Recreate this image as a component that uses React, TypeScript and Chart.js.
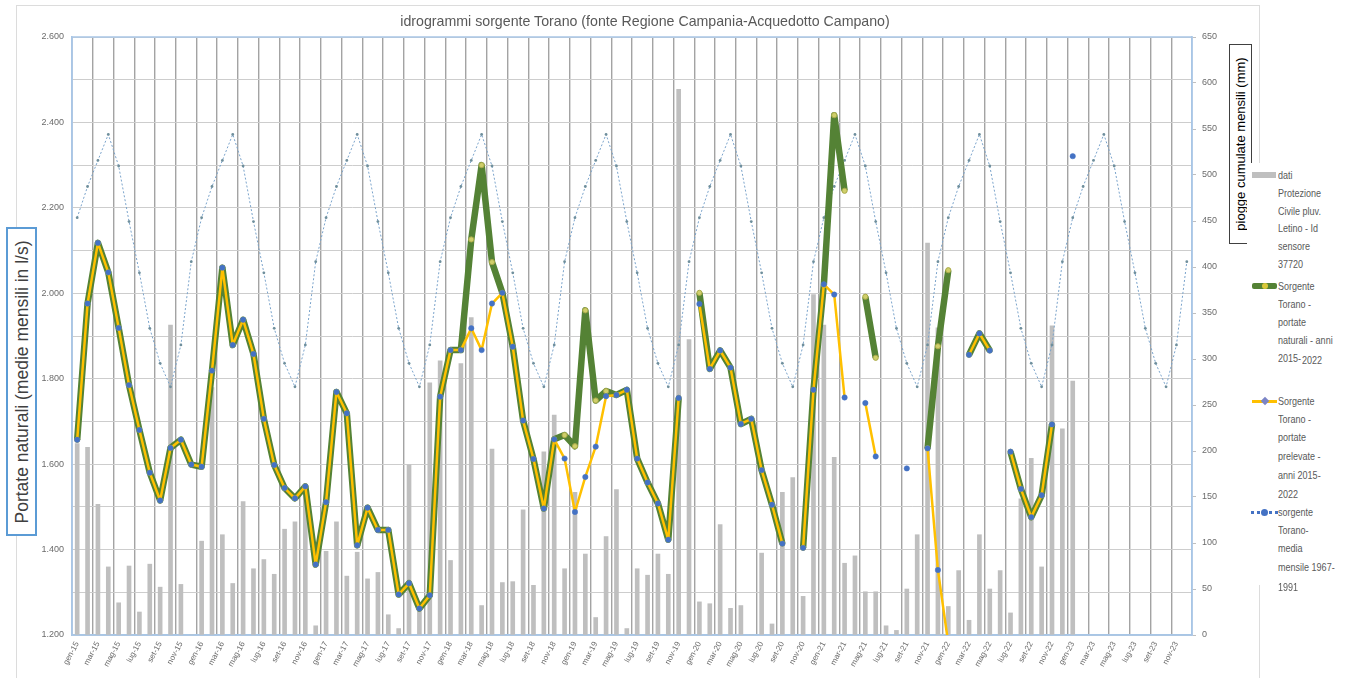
import React, { useEffect, useRef } from 'react';
import { Chart, registerables } from 'chart.js';

Chart.register(...registerables);

// ---------- data ----------
const MONTHS = ['gen', 'feb', 'mar', 'apr', 'mag', 'giu', 'lug', 'ago', 'set', 'ott', 'nov', 'dic'];
const YEARS = ['15', '16', '17', '18', '19', '20', '21', '22', '23'];
const categories: string[] = YEARS.flatMap((y) => MONTHS.map((m) => `${m}-${y}`));

// monthly cumulated rainfall (mm) - right axis
const pioggeMm: (number | null)[] = [
  208, 204, 142, 74, 35, 75, 25, 77, 52, 337, 55, 0,
  102, 269, 109, 56, 145, 72, 82, 66, 115, 123, 160, 10,
  91, 123, 64, 90, 61, 68, 22, 7, 185, 30, 274, 298,
  81, 295, 345, 32, 202, 57, 58, 136, 54, 199, 239, 72,
  155, 88, 19, 107, 158, 7, 72, 65, 88, 66, 593, 321,
  36, 34, 120, 29, 32, 0, 89, 12, 155, 171, 42, 370,
  337, 193, 78, 86, 47, 47, 10, 5, 50, 109, 426, 334,
  31, 70, 16, 109, 50, 70, 24, 148, 192, 74, 336, 224,
  276, null, null, null, null, null, null, null, null, null, null, null,
];

// Sorgente Torano - portate naturali (l/s)
const portateNaturali: (number | null)[] = [
  1657, 1976, 2118, 2049, 1919, 1785, 1680, 1580, 1515, 1638, 1657, 1599,
  1594, 1819, 2060, 1879, 1938, 1858, 1706, 1598, 1544, 1520, 1548, 1365,
  1511, 1769, 1719, 1410, 1498, 1446, 1446, 1295, 1321, 1262, 1293, 1758,
  1867, 1867, 2126, 2300, 2073, 2001, 1875, 1702, 1612, 1496, 1658, 1668,
  1642, 1960, 1749, 1771, 1762, 1774, 1613, 1557, 1508, 1423, 1755, null,
  2001, 1823, 1866, 1826, 1694, 1706, 1586, 1505, 1414, null, 1404, 1774,
  2020, 2417, 2240, null, 1992, 1849, null, null, null, null, 1637, 1876,
  2054, null, 1856, 1906, 1866, null, 1629, 1542, 1476, 1527, 1693, null,
  null, null, null, null, null, null, null, null, null, null, null, null,
];

// Sorgente Torano - portate prelevate (l/s)
const portatePrelevate: (number | null)[] = [
  1657, 1976, 2118, 2049, 1919, 1785, 1680, 1580, 1515, 1638, 1657, 1599,
  1594, 1819, 2060, 1879, 1938, 1858, 1706, 1598, 1544, 1520, 1548, 1365,
  1511, 1769, 1719, 1410, 1498, 1446, 1446, 1295, 1321, 1262, 1293, 1758,
  1867, 1867, 1918, 1867, 1976, 2001, 1875, 1702, 1612, 1496, 1658, 1613,
  1488, 1570, 1641, 1759, 1762, 1774, 1613, 1557, 1508, 1423, 1755, null,
  1975, 1823, 1866, 1826, 1694, 1706, 1586, 1505, 1414, null, 1404, 1774,
  2021, 1997, 1756, null, 1743, 1618, null, null, 1590, null, 1637, 1352,
  1180, null, 1856, 1906, 1866, null, 1629, 1542, 1476, 1527, 1693, null,
  2321, null, null, null, null, null, null, null, null, null, null, null,
];

// sorgente Torano - media mensile 1967-1991 (l/s)
const mediaMensile: number[] = [
  2177, 2250, 2311, 2372, 2298, 2168, 2048, 1918, 1836, 1781, 1879, 2074,
  2177, 2250, 2311, 2372, 2298, 2168, 2048, 1918, 1836, 1781, 1879, 2074,
  2177, 2250, 2311, 2372, 2298, 2168, 2048, 1918, 1836, 1781, 1879, 2074,
  2177, 2250, 2311, 2372, 2298, 2168, 2048, 1918, 1836, 1781, 1879, 2074,
  2177, 2250, 2311, 2372, 2298, 2168, 2048, 1918, 1836, 1781, 1879, 2074,
  2177, 2250, 2311, 2372, 2298, 2168, 2048, 1918, 1836, 1781, 1879, 2074,
  2177, 2250, 2311, 2372, 2298, 2168, 2048, 1918, 1836, 1781, 1879, 2074,
  2177, 2250, 2311, 2372, 2298, 2168, 2048, 1918, 1836, 1781, 1879, 2074,
  2177, 2250, 2311, 2372, 2298, 2168, 2048, 1918, 1836, 1781, 1879, 2074,
];

const LEFT_MIN = 1200;
const LEFT_MAX = 2600;
const RIGHT_MIN = 0;
const RIGHT_MAX = 650;

const TITLE = 'idrogrammi sorgente Torano (fonte Regione Campania-Acquedotto Campano)';
const LEFT_AXIS_TITLE = 'Portate naturali (medie mensili in l/s)';
const RIGHT_AXIS_TITLE = 'piogge cumulate mensili (mm)';

const legendRain = ['dati', 'Protezione', 'Civile pluv.', 'Letino - Id', 'sensore', '37720'];
const legendNat = ['Sorgente', 'Torano -', 'portate', 'naturali - anni'];
const legendPrel = ['Sorgente', 'Torano -', 'portate', 'prelevate -', 'anni 2015-', '2022'];
const legendMedia = ['sorgente', 'Torano-', 'media', 'mensile 1967-', '1991'];

const fmtThousands = (v: number) => {
  const s = Math.round(v);
  const k = Math.floor(s / 1000);
  const r = String(s % 1000).padStart(3, '0');
  return `${k}.${r}`;
};

const FONT = '"Liberation Sans", Arial, sans-serif';

const borderPlugin = {
  id: 'plotBorder',
  beforeDatasetsDraw(chart: any) {
    const { ctx, chartArea } = chart;
    ctx.save();
    ctx.strokeStyle = '#a9c6e6';
    ctx.lineWidth = 1.5;
    ctx.strokeRect(chartArea.left, chartArea.top, chartArea.right - chartArea.left, chartArea.bottom - chartArea.top);
    ctx.restore();
  },
};

export default function App() {
  const ref = useRef<HTMLCanvasElement | null>(null);

  useEffect(() => {
    if (!ref.current) return;
    const chart = new Chart(ref.current, {
      type: 'bar',
      data: {
        labels: categories,
        datasets: [
          {
            type: 'line',
            label: 'Sorgente Torano - portate prelevate - anni 2015-2022',
            data: portatePrelevate,
            yAxisID: 'y',
            borderColor: '#ffc000',
            borderWidth: 2.5,
            pointRadius: 2.7,
            pointBackgroundColor: '#4472c4',
            pointBorderColor: '#4472c4',
            pointBorderWidth: 0.5,
            spanGaps: false,
            tension: 0,
            borderJoinStyle: 'round',
            order: 0,
          } as any,
          {
            type: 'line',
            label: 'Sorgente Torano - portate naturali - anni 2015-2022',
            data: portateNaturali,
            yAxisID: 'y',
            borderColor: '#548235',
            borderWidth: 6.5,
            pointRadius: 2.6,
            pointBackgroundColor: '#cfcf6a',
            pointBorderColor: '#a8a848',
            pointBorderWidth: 1,
            spanGaps: false,
            tension: 0,
            borderJoinStyle: 'round',
            order: 1,
          } as any,
          {
            type: 'line',
            label: 'sorgente Torano- media mensile 1967-1991',
            data: mediaMensile,
            yAxisID: 'y',
            borderColor: '#7aa3cb',
            borderWidth: 1,
            borderDash: [2, 2],
            pointRadius: 1.4,
            pointBackgroundColor: '#6f8f9c',
            pointBorderColor: '#6f8f9c',
            pointBorderWidth: 0,
            tension: 0,
            order: 2,
          } as any,
          {
            type: 'bar',
            label: 'dati Protezione Civile pluv. Letino - Id sensore 37720',
            data: pioggeMm,
            yAxisID: 'y2',
            backgroundColor: '#bfbfbf',
            barThickness: 4,
            order: 3,
          } as any,
        ],
      },
      options: {
        responsive: false,
        animation: false,
        devicePixelRatio: 1,
        layout: { padding: { top: 37, left: 0, right: 0, bottom: 0 } },
        plugins: {
          legend: { display: false },
          title: { display: false },
          tooltip: { enabled: false },
        },
        scales: {
          x: {
            type: 'category',
            offset: true,
            afterFit: (scale: any) => {
              scale.height = 43;
            },
            grid: {
              offset: true,
              drawTicks: false,
              lineWidth: 1.4,
              color: (ctx: any) => (ctx.index % 2 === 0 ? '#a3a3a3' : 'rgba(0,0,0,0)'),
            },
            border: { color: '#a9c6e6', width: 1.5 },
            ticks: {
              autoSkip: false,
              maxRotation: 62,
              minRotation: 62,
              padding: 5,
              color: '#6b6b6b',
              font: { family: FONT, size: 8 },
              callback: (_v: any, i: number) => (i % 2 === 0 ? categories[i] : ''),
            },
          },
          y: {
            type: 'linear',
            position: 'left',
            min: LEFT_MIN,
            max: LEFT_MAX,
            afterFit: (scale: any) => {
              scale.width = 72;
            },
            grid: { color: '#cdcdcd', lineWidth: 1, drawTicks: false },
            border: { color: '#a9c6e6', width: 1.5 },
            ticks: {
              stepSize: 100,
              padding: 8,
              color: '#6b6b6b',
              font: { family: FONT, size: 9 },
              callback: (v: any) => (Number(v) % 200 === 0 ? fmtThousands(Number(v)) : ''),
            },
          },
          y2: {
            type: 'linear',
            position: 'right',
            min: RIGHT_MIN,
            max: RIGHT_MAX,
            afterFit: (scale: any) => {
              scale.width = 154;
            },
            grid: { drawOnChartArea: false, color: '#bfbfbf', tickLength: 4 },
            border: { color: '#a9c6e6', width: 1.5 },
            ticks: {
              stepSize: 50,
              padding: 6,
              color: '#6b6b6b',
              font: { family: FONT, size: 9 },
            },
          },
        },
      },
      plugins: [borderPlugin],
    });
    return () => chart.destroy();
  }, []);

  const legendText = (lines: string[], x: number, ys: number[]) =>
    lines.map((t, i) => (
      <div
        key={t + i}
        style={{
          position: 'absolute',
          left: x,
          top: ys[i] - 7,
          fontSize: 11,
          lineHeight: '14px',
          color: '#595959',
          whiteSpace: 'nowrap',
          transform: 'scaleX(0.82)',
          transformOrigin: 'left center',
        }}
      >
        {t}
      </div>
    ));

  return (
    <div
      style={{
        position: 'fixed',
        left: 0,
        top: 0,
        width: 1346,
        height: 678,
        background: '#ffffff',
        overflow: 'hidden',
        fontFamily: FONT,
      }}
    >
      {/* chart area frame */}
      <div
        style={{
          position: 'absolute',
          left: 16,
          top: 5,
          width: 1244,
          height: 720,
          border: '1px solid #dcdcdc',
          boxSizing: 'border-box',
        }}
      />
      <canvas
        ref={ref}
        width={1346}
        height={678}
        style={{ position: 'absolute', left: 0, top: 0, width: 1346, height: 678 }}
      />
      {/* title */}
      <div
        style={{
          position: 'absolute',
          left: 645,
          top: 12,
          transform: 'translateX(-50%)',
          fontSize: 14.2,
          lineHeight: '18px',
          color: '#595959',
          whiteSpace: 'nowrap',
        }}
      >
        {TITLE}
      </div>
      {/* left axis title box */}
      <div
        style={{
          position: 'absolute',
          left: 6,
          top: 227,
          width: 31,
          height: 309,
          border: '2px solid #5b9bd5',
          boxSizing: 'border-box',
          background: '#fff',
        }}
      >
        <div
          style={{
            position: 'absolute',
            left: '50%',
            top: '50%',
            transform: 'translate(-50%, -50%) rotate(-90deg)',
            whiteSpace: 'nowrap',
            fontSize: 17.5,
            lineHeight: '20px',
            color: '#404040',
          }}
        >
          {LEFT_AXIS_TITLE}
        </div>
      </div>
      {/* right axis title box */}
      <div
        style={{
          position: 'absolute',
          left: 1229,
          top: 44,
          width: 23,
          height: 200,
          border: '1.5px solid #404040',
          boxSizing: 'border-box',
          background: '#fff',
        }}
      >
        <div
          style={{
            position: 'absolute',
            left: '50%',
            top: '50%',
            transform: 'translate(-50%, -50%) rotate(-90deg)',
            whiteSpace: 'nowrap',
            fontSize: 13,
            lineHeight: '16px',
            color: '#000000',
          }}
        >
          {RIGHT_AXIS_TITLE}
        </div>
      </div>
      {/* legend */}
      <div style={{ position: 'absolute', left: 1247, top: 163, width: 99, height: 422, background: '#fff' }} />
      {/* rain swatch */}
      <div style={{ position: 'absolute', left: 1252, top: 172, width: 24, height: 6, background: '#bfbfbf' }} />
      {legendText(legendRain, 1278, [175, 193, 211, 228, 246, 264])}
      {/* natural swatch */}
      <div style={{ position: 'absolute', left: 1252, top: 283, width: 25, height: 6, background: '#548235', borderRadius: 2 }} />
      <div style={{ position: 'absolute', left: 1262, top: 283, width: 6, height: 6, background: '#d8c83a', borderRadius: 3 }} />
      {legendText(legendNat, 1278, [286, 304, 322, 340])}
      <div style={{ position: 'absolute', left: 1278, top: 351, fontSize: 11, lineHeight: '14px', color: '#595959', whiteSpace: 'nowrap', transform: 'scaleX(0.82)', transformOrigin: 'left center' }}>
        2015-
      </div>
      <div style={{ position: 'absolute', left: 1302, top: 353, fontSize: 11, lineHeight: '14px', color: '#595959', whiteSpace: 'nowrap', transform: 'scaleX(0.82)', transformOrigin: 'left center' }}>
        2022
      </div>
      {/* prelevate swatch */}
      <div style={{ position: 'absolute', left: 1252, top: 400, width: 25, height: 3, background: '#ffc000' }} />
      <div style={{ position: 'absolute', left: 1262, top: 398, width: 6, height: 6, background: '#7b84c6', transform: 'rotate(45deg)' }} />
      {legendText(legendPrel, 1278, [401, 419, 437, 456, 475, 494])}
      {/* media swatch */}
      <div style={{ position: 'absolute', left: 1251, top: 511, width: 27, height: 0, borderTop: '3px dotted #4472c4' }} />
      <div style={{ position: 'absolute', left: 1261, top: 509, width: 7, height: 7, background: '#4472c4', borderRadius: 4 }} />
      {legendText(legendMedia, 1278, [512, 530, 548, 567, 587])}
    </div>
  );
}
